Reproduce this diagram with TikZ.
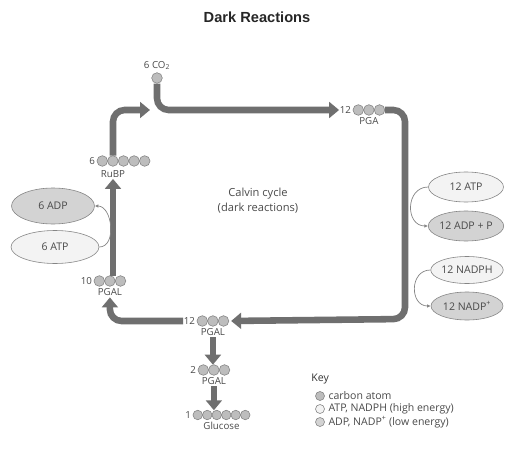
\documentclass[tikz,border=0pt]{standalone}
\usepackage{fontspec}
\setmainfont{Open Sans}
\newfontfamily\headfont{Liberation Sans}
\usetikzlibrary{arrows.meta, positioning, shapes.geometric}
\definecolor{CycleGray}{HTML}{6F6F6F}
\definecolor{AtomFill}{HTML}{BDBDBD}
\definecolor{AtomLine}{HTML}{858585}
\definecolor{HighFill}{HTML}{F3F3F3}
\definecolor{LowFill}{HTML}{D3D3D3}
\definecolor{LabelText}{HTML}{4A4A4A}

\newcommand{\px}{0.03cm}
% carbon chain: name, left x, y, atoms, atom diameter (all in px)
\newcommand{\carbonchain}[5]{%
  \node[chainbox, minimum width={#4*#5*\px}, minimum height={#5*\px}] (#1) at ({#2+#4*#5/2},#3) {};
  \foreach \k in {1,...,#4}
    \draw[atom] ({#2+(\k-0.5)*#5},#3) circle[radius={#5*\px/2}];
}

\begin{document}
\begin{tikzpicture}[x=\px, y=-\px,
  chainbox/.style={inner sep=0pt, outer sep=0pt},
  atom/.style={draw=AtomLine, fill=AtomFill, line width=0.5pt},
  lbl/.style={font=\fontsize{8.3}{9}\selectfont, text=LabelText, inner sep=1pt},
  num/.style={lbl, inner sep=0.5pt},
  keytext/.style={lbl, font=\fontsize{9}{10}\selectfont},
  energy/.style={ellipse, draw=AtomLine, line width=0.5pt, inner sep=0pt, font=\fontsize{9}{10}\selectfont, text=LabelText},
  hienergy/.style={energy, fill=HighFill},
  loenergy/.style={energy, fill=LowFill},
  keyatom/.style={circle, draw=AtomLine, line width=0.5pt, inner sep=0pt, minimum size=9*\px},
  flow/.style={draw=CycleGray, line width=5.6pt, rounded corners=10pt, -{Triangle[length=8.5pt,width=13.5pt]}},
  cofactor/.style={draw=AtomLine, line width=0.6pt, -{Latex[length=3pt,width=3pt]}}
]
  \fill[white] (0,0) rectangle (508,454);
  \useasboundingbox (0,0) rectangle (508,454);

  \node[font=\headfont\bfseries\fontsize{12.5}{14}\selectfont, text=black!85] (title) at (257,17) {Dark Reactions};

  % molecules
  \node[atom, circle, inner sep=0pt, minimum size=10.6*\px] (co2) at (157,78) {};
  \node[lbl, above=1pt of co2] (co2lbl) {6 CO\textsubscript{2}};

  \carbonchain{rubp}{97}{161}{5}{10.6}
  \node[num, left=1pt of rubp] (rubpn) {6};
  \node[lbl] (rubplbl) at (113,174) {RuBP};

  \carbonchain{pga}{353}{110}{3}{10.6}
  \node[num, left=1pt of pga] (pgan) {12};
  \node[lbl, below=1pt of pga] (pgalbl) {PGA};

  \carbonchain{pgal12}{197}{321}{3}{10.6}
  \node[num, left=1pt of pgal12] (pgal12n) {12};
  \node[lbl, below=1pt of pgal12] (pgal12lbl) {PGAL};

  \carbonchain{pgal10}{94}{281}{3}{10.6}
  \node[num, left=1pt of pgal10] (pgal10n) {10};
  \node[lbl, below=1pt of pgal10] (pgal10lbl) {PGAL};

  \carbonchain{pgal2}{198}{370}{3}{10.6}
  \node[num, left=1pt of pgal2] (pgal2n) {2};
  \node[lbl, below=1pt of pgal2] (pgal2lbl) {PGAL};

  \carbonchain{glucose}{193}{415}{6}{9.5}
  \node[num, left=1pt of glucose] (glucosen) {1};
  \node[lbl, below=1pt of glucose] (glucoselbl) {Glucose};

  \node[lbl, align=center, font=\fontsize{9.5}{13}\selectfont] (calvin) at (258,201) {Calvin cycle\\(dark reactions)};

  % energy carriers
  \node[hienergy, minimum width=75*\px, minimum height=30*\px] (atp12) at (466,187) {12 ATP};
  \node[loenergy, minimum width=75*\px, minimum height=30*\px] (adp12) at (466,226) {12 ADP + P};
  \node[hienergy, minimum width=72*\px, minimum height=27*\px] (nadph12) at (467,270) {12 NADPH};
  \node[loenergy, minimum width=72*\px, minimum height=28*\px] (nadp12) at (467,306) {12 NADP\textsuperscript{+}};
  \node[loenergy, minimum width=83*\px, minimum height=36*\px] (adp6) at (53,206) {6 ADP};
  \node[hienergy, minimum width=88*\px, minimum height=33*\px] (atp6) at (55,247) {6 ATP};

  % cycle
  \coordinate (join) at (150,110);
  \coordinate (ne) at (405,110);
  \coordinate (se) at (405,319);

  \draw[flow] (rubp.north -| rubplbl) |- (join);
  \draw[flow] (co2.south) |- (pgan.west);
  \draw[flow, shorten >=2pt] (pga.east) -- (ne) -- (se) -- (pgal12.east);
  \draw[flow] (pgal12n.west) -| (pgal10lbl.south);
  \draw[flow] (pgal10.north -| rubplbl) -- (rubplbl.south);
  \draw[flow] (pgal12lbl.south) -- (pgal12lbl.south |- pgal2.north);
  \draw[flow] (pgal2lbl.south) -- (pgal2lbl.south |- glucose.north);

  \draw[cofactor] (atp12.west) to[out=180, in=180, looseness=1.5] (adp12.west);
  \draw[cofactor] (nadph12.west) to[out=180, in=180, looseness=1.5] (nadp12.west);
  \draw[cofactor] (atp6.east) to[out=0, in=0, looseness=1.1] (adp6.east);

  % key
  \node[keytext, anchor=west, text=black!80] (key) at (310,379) {Key};
  \node[keyatom, fill=AtomFill] (katom) at (320,396) {};
  \node[keyatom, fill=HighFill] (khigh) at (320,409) {};
  \node[keyatom, fill=LowFill] (klow) at (320,422) {};
  \node[keytext, right=2pt of katom] {carbon atom};
  \node[keytext, right=2pt of khigh] {ATP, NADPH (high energy)};
  \node[keytext, right=2pt of klow] {ADP, NADP\textsuperscript{+} (low energy)};
\end{tikzpicture}
\end{document}
